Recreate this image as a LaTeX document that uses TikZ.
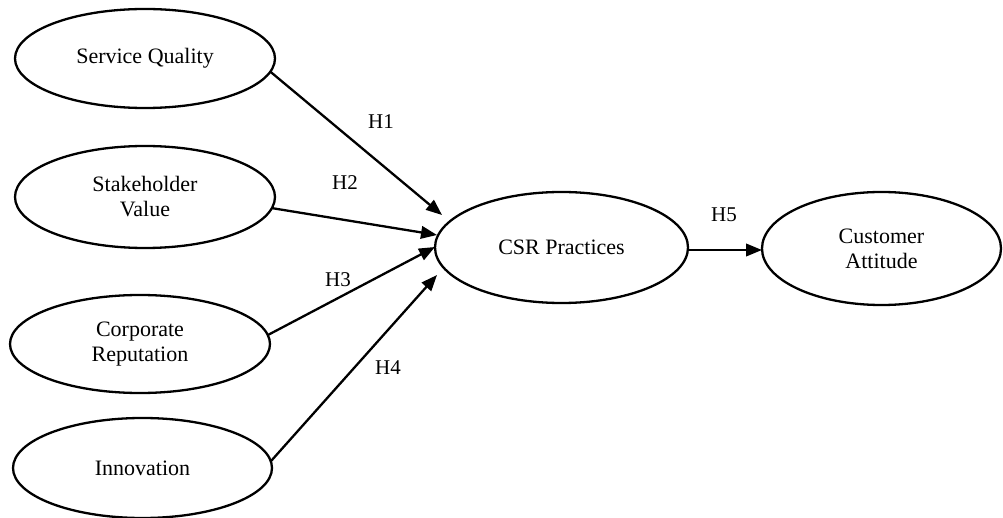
\documentclass[tikz,border=0pt]{standalone}
\usepackage{fontspec}
\setmainfont{Liberation Serif}
\usetikzlibrary{shapes.geometric,arrows.meta}

\begin{document}
\begin{tikzpicture}[x=1pt,y=-1pt,
  construct/.style={draw, ellipse, line width=2.3pt, inner sep=0pt, outer sep=0pt,
    align=center, font=\fontsize{22}{25}\selectfont},
  path/.style={line width=2.3pt, -{Triangle[length=16pt,width=12.5pt]}},
  hyp/.style={font=\fontsize{21}{24}\selectfont, inner sep=0pt}]

  \useasboundingbox (0,0) rectangle (1003,518);

  % antecedent constructs
  \node[construct, minimum width=260pt, minimum height=99pt]  (sq)  at (145,58.5) {Service Quality};
  \node[construct, minimum width=260pt, minimum height=102pt] (sv)  at (145,197)  {Stakeholder\\Value};
  \node[construct, minimum width=260pt, minimum height=98pt]  (cr)  at (140,344)  {Corporate\\Reputation};
  \node[construct, minimum width=259pt, minimum height=100pt] (inn) at (142.5,468) {Innovation};

  % mediator and outcome
  \node[construct, minimum width=253pt, minimum height=111pt] (csr) at (561.5,247.5) {CSR Practices};
  \node[construct, minimum width=239pt, minimum height=113pt] (ca)  at (881.5,248.5) {Customer\\Attitude};

  % arrow tips in front of the CSR construct
  \coordinate (t1) at (442,215);
  \coordinate (t2) at (437,235);
  \coordinate (t3) at (435,247);
  \coordinate (t4) at (437,275);

  % hypothesised paths
  \draw[path] (sq.-6)  -- (t1);
  \draw[path] (sv.-5)  -- (t2);
  \draw[path] (cr.4)   -- (t3);
  \draw[path] (inn.3)  -- (t4);
  \draw[path] (csr.east |- 0,250) -- (ca.west |- 0,250);

  % hypothesis labels
  \node[hyp] (h1) at (381,122) {H1};
  \node[hyp] (h2) at (345,183) {H2};
  \node[hyp] (h3) at (338,280) {H3};
  \node[hyp] (h4) at (388,368) {H4};
  \node[hyp] (h5) at (724,215) {H5};
\end{tikzpicture}
\end{document}
